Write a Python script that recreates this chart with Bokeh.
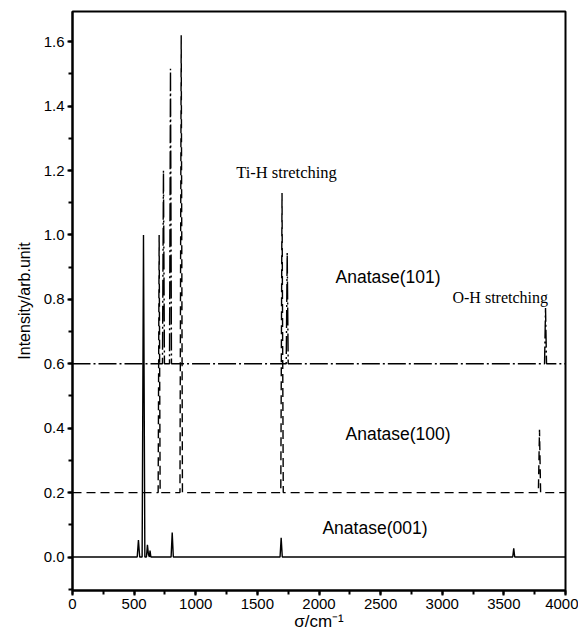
from bokeh.plotting import figure
from bokeh.models import Range1d, Label, FixedTicker, CustomJSTickFormatter
from bokeh.embed import file_html
from bokeh.resources import INLINE

# Anatase(001) - solid, baseline 0.0
x001 = [0, 525, 535, 545, 565, 576, 587, 600, 608, 616, 624, 629, 636, 800, 809, 818, 1684, 1693, 1702, 3572, 3580, 3588, 4000]
y001 = [0.0, 0.0, 0.053, 0.0, 0.0, 1.0, 0.0, 0.0, 0.038, 0.008, 0.0, 0.02, 0.0, 0.0, 0.076, 0.0, 0.0, 0.06, 0.0, 0.0, 0.027, 0.0, 0.0]

# Anatase(100) - dashed, baseline 0.2
x100 = [0, 695, 703, 711, 872, 882, 892, 1690, 1700, 1710, 3780, 3789, 3798, 4000]
y100 = [0.2, 0.2, 1.0, 0.2, 0.2, 1.62, 0.2, 0.2, 1.13, 0.2, 0.2, 0.395, 0.2, 0.2]

# Anatase(101) - dash-dot, baseline 0.6
x101 = [0, 730, 738, 746, 787, 795, 803, 1734, 1742, 1750, 3830, 3838, 3846, 4000]
y101 = [0.6, 0.6, 1.2, 0.6, 0.6, 1.516, 0.6, 0.6, 0.945, 0.6, 0.6, 0.773, 0.6, 0.6]

x_ticks = [0, 500, 1000, 1500, 2000, 2500, 3000, 3500, 4000]
y_ticks = [0.0, 0.2, 0.4, 0.6, 0.8, 1.0, 1.2, 1.4, 1.6]

p = figure(width=578, height=633, output_backend="svg", toolbar_location=None,
           x_range=Range1d(0, 4000), y_range=Range1d(-0.104, 1.694),
           min_border_left=72, min_border_right=13, min_border_top=11, min_border_bottom=42)
p.grid.visible = False
p.background_fill_color = "white"
p.border_fill_color = "white"
p.outline_line_color = "black"
p.outline_line_width = 2

p.line(x001, y001, line_color="black", line_width=1.4)
p.line(x100, y100, line_color="black", line_width=1.4, line_dash="9 5")
p.line(x101, y101, line_color="black", line_width=1.4, line_dash="18 3 2 3")

p.xaxis.ticker = FixedTicker(ticks=x_ticks, minor_ticks=[250 * i for i in range(17)])
p.yaxis.ticker = FixedTicker(ticks=y_ticks, minor_ticks=[round(-0.1 + 0.1 * i, 2) for i in range(18)])
p.xaxis.formatter.use_scientific = False
p.yaxis.formatter = CustomJSTickFormatter(code="return tick.toFixed(1);")

for ax in (p.xaxis, p.yaxis):
    ax.axis_line_width = 2
    ax.major_tick_line_width = 2
    ax.minor_tick_line_width = 2
    ax.major_tick_in = 0
    ax.major_tick_out = 5
    ax.minor_tick_in = 0
    ax.minor_tick_out = 4
    ax.major_label_text_font = "Liberation Sans"
    ax.major_label_text_font_size = "15px"
    ax.major_label_text_color = "black"
    ax.axis_label_text_font = "Liberation Sans"
    ax.axis_label_text_font_style = "normal"
    ax.axis_label_text_color = "black"
    ax.major_label_standoff = 3

p.xaxis.axis_label = "σ/cm⁻¹"
p.xaxis.axis_label_text_font_size = "17px"
p.xaxis.axis_label_standoff = 0
p.yaxis.axis_label = "Intensity/arb.unit"
p.yaxis.axis_label_text_font_size = "16px"
p.yaxis.axis_label_standoff = 8

labels = [
    ("Ti-H stretching", 1328, 1.195, "Liberation Serif", "16.5px"),
    ("O-H stretching", 3083, 0.807, "Liberation Serif", "16px"),
    ("Anatase(101)", 2134, 0.870, "Liberation Sans", "17.5px"),
    ("Anatase(100)", 2215, 0.382, "Liberation Sans", "17.5px"),
    ("Anatase(001)", 2028, 0.090, "Liberation Sans", "17.5px"),
]
for t, x, y, f, s in labels:
    p.add_layout(Label(x=x, y=y, text=t, text_font=f, text_font_size=s,
                       text_baseline="middle", text_align="left", text_color="black"))

open("out.html", "w").write(file_html(p, INLINE))
